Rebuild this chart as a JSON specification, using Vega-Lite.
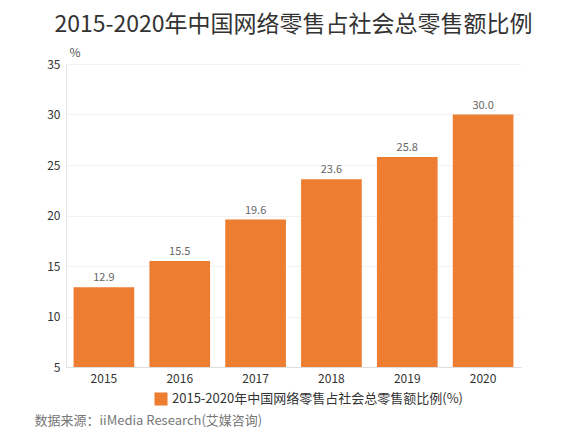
{
  "$schema": "https://vega.github.io/schema/vega-lite/v6.json",
  "autosize": "none",
  "width": 455,
  "height": 303,
  "padding": {"left": 66, "top": 64, "right": 55, "bottom": 65},
  "background": "white",
  "title": {
    "text": "2015-2020年中国网络零售占社会总零售额比例",
    "anchor": "middle",
    "fontSize": 23,
    "fontWeight": "normal",
    "color": "#333333",
    "offset": 9
  },
  "data": {
    "values": [
      {"year": "2015", "share": 12.9, "series": "2015-2020年中国网络零售占社会总零售额比例(%)"},
      {"year": "2016", "share": 15.5, "series": "2015-2020年中国网络零售占社会总零售额比例(%)"},
      {"year": "2017", "share": 19.6, "series": "2015-2020年中国网络零售占社会总零售额比例(%)"},
      {"year": "2018", "share": 23.6, "series": "2015-2020年中国网络零售占社会总零售额比例(%)"},
      {"year": "2019", "share": 25.8, "series": "2015-2020年中国网络零售占社会总零售额比例(%)"},
      {"year": "2020", "share": 30.0, "series": "2015-2020年中国网络零售占社会总零售额比例(%)"}
    ]
  },
  "encoding": {
    "x": {
      "field": "year",
      "type": "ordinal",
      "scale": {"paddingInner": 0.2, "paddingOuter": 0.1},
      "title": "数据来源：iiMedia Research(艾媒咨询)",
      "axis": {
        "labelAngle": 0,
        "labelFontSize": 12,
        "labelColor": "#333333",
        "labelPadding": 6,
        "ticks": false,
        "domainColor": "#dddddd",
        "titleAnchor": "start",
        "titleAlign": "left",
        "titleBaseline": "top",
        "titleX": -32,
        "titleY": 47,
        "titleFontSize": 13,
        "titleFontWeight": "normal",
        "titleColor": "#777777"
      }
    },
    "y": {
      "field": "share",
      "type": "quantitative",
      "scale": {"domain": [5, 35], "nice": false, "zero": false},
      "title": "%",
      "axis": {
        "values": [5, 10, 15, 20, 25, 30, 35],
        "labelFontSize": 12,
        "labelColor": "#333333",
        "labelPadding": 6,
        "ticks": false,
        "domainColor": "#e6e6e6",
        "gridColor": "#f2f2f2",
        "titleAngle": 0,
        "titleAlign": "left",
        "titleBaseline": "bottom",
        "titleX": 3,
        "titleY": -5,
        "titleFontSize": 12,
        "titleFontWeight": "normal",
        "titleColor": "#555555"
      }
    }
  },
  "layer": [
    {
      "mark": {"type": "bar", "clip": true},
      "encoding": {
        "color": {
          "field": "series",
          "type": "nominal",
          "scale": {"range": ["#ed7d31"]},
          "legend": {
            "title": null,
            "orient": "none",
            "legendX": 88,
            "legendY": 328,
            "symbolType": "square",
            "symbolSize": 170,
            "symbolStrokeWidth": 0,
            "labelFontSize": 13,
            "labelColor": "#333333",
            "labelLimit": 400
          }
        }
      }
    },
    {
      "mark": {"type": "text", "dy": -9, "fontSize": 11, "color": "#666666"},
      "encoding": {
        "text": {"field": "share", "type": "quantitative", "format": ".1f"}
      }
    }
  ],
  "config": {
    "font": "Noto Sans CJK SC",
    "view": {"stroke": null}
  }
}
